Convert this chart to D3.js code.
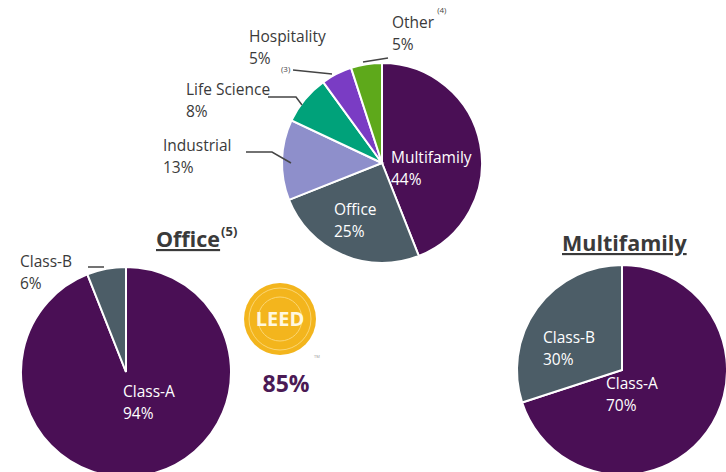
<!DOCTYPE html>
<html>
<head>
<meta charset="utf-8">
<script src="https://cdn.jsdelivr.net/npm/d3@7"></script>
<style>
  body { margin: 0; background: #fff; }
  text { font-family: "Open Sans", "Noto Sans", sans-serif; }
</style>
</head>
<body>
<script>
'use strict';

// portfolio mix (top pie)
const sectors = ["Multifamily", "Office", "Industrial", "Life Science", "Hospitality", "Other"];
const sectorShares = [44, 25, 13, 8, 5, 5];
const sectorColors = ["#4a0f55", "#4c5d67", "#8e8fcb", "#00a27a", "#7a3cc4", "#5ea91b"];

// office class split
const officeClasses = ["Class-A", "Class-B"];
const officeShares = [94, 6];

// multifamily class split
const mfClasses = ["Class-A", "Class-B"];
const mfShares = [70, 30];
const classColors = ["#4a0f55", "#4c5d67"];

const leedShare = "85%";

let svg = d3.select('body').append('svg')
  .attr('width', 726)
  .attr('height', 472);

let pie = d3.pie().sort(null).value(d => d.v);

function drawPie(cx, cy, r, names, values, colors) {
  let data = names.map((n, i) => ({ name: n, v: values[i], color: colors[i] }));
  let arcs = pie(data);
  let arc = d3.arc().innerRadius(0).outerRadius(r);
  let g = svg.append('g').attr('transform', `translate(${cx},${cy})`);
  g.selectAll('path')
    .data(arcs)
    .enter()
    .append('path')
    .attr('d', arc)
    .attr('fill', d => d.data.color)
    .attr('stroke', '#fff')
    .attr('stroke-width', 2);
  return g;
}

function label(x, y, lines, color) {
  let t = svg.append('text')
    .attr('x', x)
    .attr('y', y)
    .style('font-size', '15.5px')
    .attr('fill', color || '#3a3a3a');
  lines.forEach((l, i) => {
    t.append('tspan').attr('x', x).attr('dy', i == 0 ? 0 : 22).text(l);
  });
  return t;
}

function leader(points) {
  svg.append('path')
    .attr('d', d3.line()(points))
    .attr('fill', 'none')
    .attr('stroke', '#444')
    .attr('stroke-width', 1.5);
}

// top pie
drawPie(382, 163, 100, sectors, sectorShares, sectorColors);
label(391, 163, [sectors[0], sectorShares[0] + '%'], '#fff');
label(334, 215, [sectors[1], sectorShares[1] + '%'], '#fff');
label(163, 151, [sectors[2], sectorShares[2] + '%']);
label(186, 95, [sectors[3], sectorShares[3] + '%']);
label(249, 42, [sectors[4], sectorShares[4] + '%']);
let other = label(392, 28, [sectors[5], sectorShares[5] + '%']);
svg.append('text').attr('x', 281).attr('y', 72).style('font-size', '8px').attr('fill', '#444').text('(3)');
let otherW = other.select('tspan').node().getComputedTextLength();
svg.append('text').attr('x', 392 + otherW + 3).attr('y', 13).style('font-size', '8px').attr('fill', '#444').text('(4)');
leader([[246, 152], [272, 152], [291, 163]]);
leader([[268, 97], [296, 97], [302, 105]]);
leader([[293, 70], [332, 74]]);
leader([[363, 62], [388, 58]]);

// office pie
drawPie(126, 372, 105, officeClasses, officeShares, classColors);
label(123, 397, [officeClasses[0], officeShares[0] + '%'], '#fff');
label(20, 267, [officeClasses[1], officeShares[1] + '%']);
leader([[88, 267], [104, 267]]);

let ot = svg.append('text').attr('x', 156).attr('y', 247)
  .style('font-size', '21.5px').style('font-weight', 'bold').attr('fill', '#3a3a3a')
  .style('text-decoration', 'underline').text('Office');
let otW = ot.node().getComputedTextLength();
svg.append('text').attr('x', 156 + otW + 1).attr('y', 236)
  .style('font-size', '13px').style('font-weight', 'bold').attr('fill', '#3a3a3a').text('(5)');

// multifamily pie
drawPie(622, 370, 105, mfClasses, mfShares, classColors);
label(606, 389, [mfClasses[0], mfShares[0] + '%'], '#fff');
label(543, 343, [mfClasses[1], mfShares[1] + '%'], '#fff');
svg.append('text').attr('x', 562).attr('y', 251)
  .style('font-size', '21.5px').style('font-weight', 'bold').attr('fill', '#3a3a3a')
  .style('text-decoration', 'underline').text('Multifamily');

// LEED badge
let badge = svg.append('g').attr('transform', 'translate(280,319)');
badge.append('circle').attr('r', 36).attr('fill', '#f3b51d');
badge.append('circle').attr('r', 31).attr('fill', 'none').attr('stroke', '#fbd673').attr('stroke-width', 1);
badge.append('circle').attr('r', 22).attr('fill', 'none').attr('stroke', '#fbd673').attr('stroke-width', 1);
badge.append('text').attr('text-anchor', 'middle').attr('y', 7)
  .style('font-size', '20px').style('font-weight', 'bold').attr('fill', '#fff8e0').text('LEED');
svg.append('text').attr('x', 314).attr('y', 358).style('font-size', '4px').attr('fill', '#999').text('TM');
svg.append('text').attr('x', 286).attr('y', 392).attr('text-anchor', 'middle')
  .style('font-size', '23px').style('font-weight', 'bold').attr('fill', '#4b1a55').text(leedShare);
</script>
</body>
</html>
